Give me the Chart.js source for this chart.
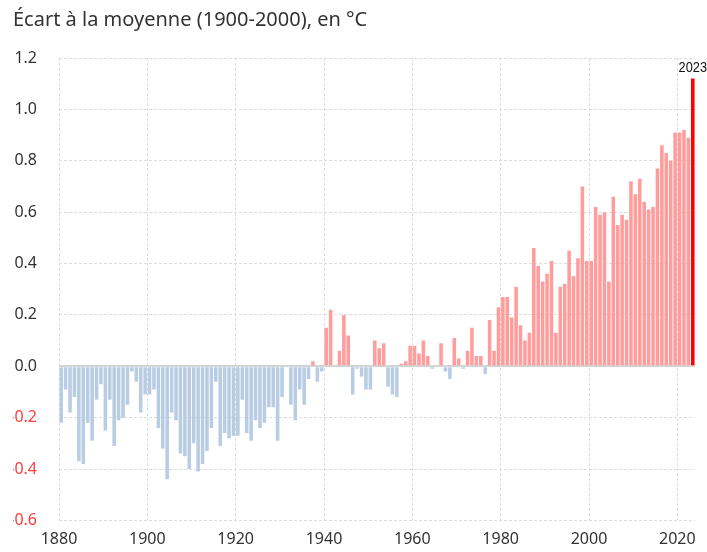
<!DOCTYPE html>
<html lang="fr">
<head>
<meta charset="utf-8">
<title>Écart à la moyenne (1900-2000)</title>
<script src="https://cdn.jsdelivr.net/npm/chart.js@4.4.1/dist/chart.umd.min.js"></script>
<style>
  html, body { margin: 0; padding: 0; background: #fff; }
  #wrap { width: 707px; height: 552px; }
</style>
</head>
<body>
<div id="wrap"><canvas id="chart" width="707" height="552"></canvas></div>
<script>
// Annual temperature anomaly vs the 1900-2000 mean, in °C
const firstYear = 1880;
const anomalies = [
  -0.22, -0.09, -0.18, -0.12, -0.37, -0.38, -0.22, -0.29, -0.13, -0.07, // 1880s
  -0.25, -0.13, -0.31, -0.21, -0.20, -0.15, -0.02, -0.06, -0.18, -0.11, // 1890s
  -0.11, -0.09, -0.24, -0.32, -0.44, -0.18, -0.21, -0.34, -0.35, -0.40, // 1900s
  -0.30, -0.41, -0.38, -0.33, -0.24, -0.06, -0.31, -0.26, -0.28, -0.27, // 1910s
  -0.27, -0.13, -0.26, -0.29, -0.21, -0.24, -0.22, -0.16, -0.16, -0.29, // 1920s
  -0.12,  0.00, -0.15, -0.21, -0.09, -0.15, -0.05,  0.02, -0.06, -0.02, // 1930s
   0.15,  0.22,  0.00,  0.06,  0.20,  0.12, -0.11, -0.01, -0.04, -0.09, // 1940s
  -0.09,  0.10,  0.07,  0.09, -0.08, -0.11, -0.12,  0.01,  0.02,  0.08, // 1950s
   0.08,  0.05,  0.10,  0.04, -0.01,  0.00,  0.09, -0.02, -0.05,  0.11, // 1960s
   0.03, -0.01,  0.06,  0.15,  0.04,  0.04, -0.03,  0.18,  0.06,  0.23, // 1970s
   0.27,  0.27,  0.19,  0.31,  0.16,  0.10,  0.13,  0.46,  0.39,  0.33, // 1980s
   0.36,  0.41,  0.13,  0.31,  0.32,  0.45,  0.35,  0.42,  0.70,  0.41, // 1990s
   0.41,  0.62,  0.59,  0.60,  0.33,  0.66,  0.55,  0.59,  0.57,  0.72, // 2000s
   0.67,  0.73,  0.64,  0.61,  0.62,  0.77,  0.86,  0.83,  0.80,  0.91, // 2010s
   0.91,  0.92,  0.89,  1.12                                            // 2020s
];
const years = anomalies.map((_, i) => firstYear + i);
const lastYear = years[years.length - 1];

const xTicks = [1880, 1900, 1920, 1940, 1960, 1980, 2000, 2020];
const yTicks = [-0.6, -0.4, -0.2, 0, 0.2, 0.4, 0.6, 0.8, 1.0, 1.2];

const colors = {
  cold: '#b8cce4',
  warm: '#ff9c9c',
  last: '#ff0000',
  grid: '#dddddd',
  zero: '#d4d4d4',
  text: '#333333',
  negText: '#ff3b3b'
};

const font = '"Noto Sans", "Open Sans", sans-serif';

// each year fills the slot [year, year + 1] on the linear axis
const points = years.map((y, i) => ({ x: y + 0.5, y: anomalies[i] }));

// "2023" above the last bar, in a narrow face
const lastLabel = {
  id: 'lastLabel',
  afterDatasetsDraw(chart) {
    const bar = chart.getDatasetMeta(0).data[points.length - 1];
    const ctx = chart.ctx;
    ctx.save();
    ctx.font = '15px "Liberation Sans", Arial, sans-serif';
    ctx.fillStyle = '#111';
    ctx.textAlign = 'center';
    ctx.textBaseline = 'alphabetic';
    ctx.translate(bar.x, bar.y - 7);
    ctx.scale(0.85, 1);
    ctx.fillText(String(lastYear), 0, 0);
    ctx.restore();
  }
};

new Chart(document.getElementById('chart'), {
  type: 'bar',
  data: {
    datasets: [{
      data: points,
      backgroundColor: c => {
        const p = c.raw;
        if (!p) return colors.warm;
        if (c.dataIndex === points.length - 1) return colors.last;
        return p.y < 0 ? colors.cold : colors.warm;
      },
      borderWidth: 0,
      barPercentage: 0.8,
      categoryPercentage: 1
    }]
  },
  options: {
    responsive: false,
    animation: false,
    devicePixelRatio: 1,
    layout: { padding: { left: 13, right: 12, top: 0, bottom: 3 } },
    plugins: {
      legend: { display: false },
      tooltip: { enabled: false },
      title: {
        display: true,
        text: 'Écart à la moyenne (1900-2000), en °C',
        align: 'start',
        color: colors.text,
        font: { family: font, size: 20, weight: 'normal' },
        padding: { top: 8, bottom: 26 }
      }
    },
    scales: {
      x: {
        type: 'linear',
        min: 1880,
        max: 2024,
        offset: false,
        afterBuildTicks: s => { s.ticks = xTicks.map(v => ({ value: v })); },
        afterFit: s => { s.height = 28; },
        ticks: {
          callback: v => String(v),
          color: colors.text,
          font: { family: font, size: 16 },
          padding: 9,
          maxRotation: 0
        },
        grid: { color: colors.grid, drawTicks: false, offset: false },
        border: { display: false, dash: [3, 2] }
      },
      y: {
        min: -0.6,
        max: 1.2,
        afterBuildTicks: s => { s.ticks = yTicks.map(v => ({ value: v })); },
        afterFit: s => { s.width = 46; },
        ticks: {
          callback: v => v.toFixed(1),
          color: c => c.tick.value < 0 ? colors.negText : colors.text,
          font: { family: font, size: 16 },
          padding: 22
        },
        grid: {
          drawTicks: false,
          color: c => c.tick.value === 0 ? colors.zero : colors.grid,
          lineWidth: c => c.tick.value === 0 ? 2 : 1
        },
        border: {
          display: false,
          dash: c => (c.tick && c.tick.value === 0) ? [] : [3, 2]
        }
      }
    }
  },
  plugins: [lastLabel]
});
</script>
</body>
</html>
